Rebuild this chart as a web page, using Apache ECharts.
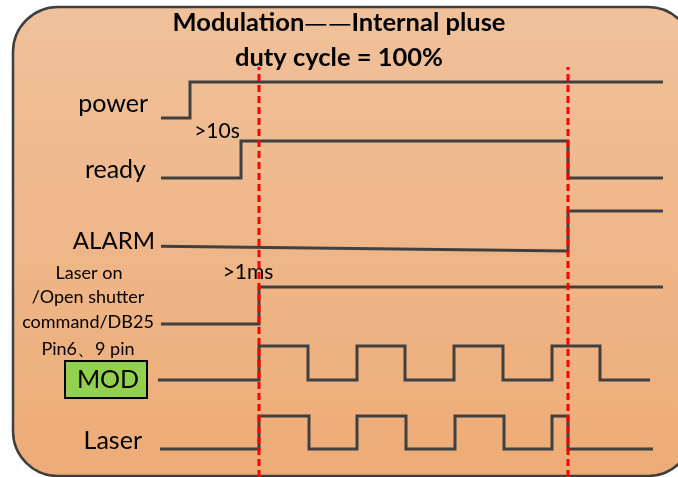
<!DOCTYPE html>
<html>
<head>
<meta charset="utf-8">
<script src="https://cdn.jsdelivr.net/npm/echarts@6/dist/echarts.min.js"></script>
<style>
  html, body { margin: 0; padding: 0; background: #fff; }
  #chart { width: 678px; height: 477px; }
</style>
</head>
<body>
<div id="chart"></div>
<script>
// time positions of each signal's edges, and the level held after each point
var powerT = [161, 190, 663];
var powerLv = [0, 1, 1];
var readyT = [161, 241, 568, 663];
var readyLv = [0, 1, 0, 0];
var alarmT = [161, 568, 568, 663];      // slowly sagging low level, then high
var alarmLv = [0.12, 0, 1, 1];
var cmdT = [161, 259, 663];
var cmdLv = [0, 1, 1];
var modT = [158, 259, 308, 357, 405, 454, 503, 552, 600, 650];
var modLv = [0, 1, 0, 1, 0, 1, 0, 1, 0, 0];
var laserT = [160, 259, 309, 357, 406, 455, 504, 552, 568, 653];
var laserLv = [0, 1, 0, 1, 0, 1, 0, 1, 0, 0];
var markerT = [259, 568];   // red dashed reference moments

var rows = [
  { name: 'power', t: powerT, lv: powerLv, top: 82, h: 36, step: 'end' },
  { name: 'ready', t: readyT, lv: readyLv, top: 141, h: 37, step: 'end' },
  { name: 'ALARM', t: alarmT, lv: alarmLv, top: 211, h: 40, step: false },
  { name: 'command', t: cmdT, lv: cmdLv, top: 287, h: 37, step: 'end' },
  { name: 'MOD', t: modT, lv: modLv, top: 346, h: 34, step: 'end' },
  { name: 'Laser', t: laserT, lv: laserLv, top: 416, h: 33, step: 'end' }
];

function pairs(t, lv) {
  return t.map(function (v, i) { return [v, lv[i]]; });
}

var grid = [], xAxis = [], yAxis = [], series = [];
rows.forEach(function (r, i) {
  grid.push({ left: 0, right: 0, top: r.top, height: r.h });
  xAxis.push({ type: 'value', gridIndex: i, min: 0, max: 678, show: false });
  yAxis.push({ type: 'value', gridIndex: i, min: 0, max: 1, show: false });
  series.push({
    name: r.name, type: 'line', xAxisIndex: i, yAxisIndex: i,
    data: pairs(r.t, r.lv), step: r.step, symbol: 'none', clip: false,
    lineStyle: { color: '#404040', width: 3, cap: 'butt', join: 'miter' },
    silent: true, z: 3
  });
});

// overlay grid for the dashed markers
var mi = rows.length;
grid.push({ left: 0, right: 0, top: 67, bottom: 0 });
xAxis.push({ type: 'value', gridIndex: mi, min: 0, max: 678, show: false });
yAxis.push({ type: 'value', gridIndex: mi, min: 0, max: 1, show: false });
markerT.forEach(function (m) {
  series.push({
    type: 'line', xAxisIndex: mi, yAxisIndex: mi,
    data: [[m, 0], [m, 1]], symbol: 'none', clip: false, silent: true,
    lineStyle: { color: '#ff0000', width: 3, type: [7, 4] }, z: 5
  });
});

var font = 'Lato, "Open Sans", sans-serif';
var cjk = '"Noto Sans CJK SC", sans-serif';
function label(txt, x, y, size, align) {
  return { type: 'text', x: x, y: y, style: { text: txt, font: size + 'px ' + font, fill: '#000', align: align || 'right', verticalAlign: 'middle' } };
}

var chart = echarts.init(document.getElementById('chart'));
var option = {
  backgroundColor: '#ffffff',
  animation: false,
  title: {
    text: '{a|Modulation}{d|—}{g| }{d|—}{a|Internal pluse}\n{a|duty cycle = 100%}',
    left: 'center', top: 0,
    textStyle: {
      rich: {
        a: { fontFamily: font, fontWeight: 'bold', fontSize: 25.5, color: '#000', lineHeight: 35 },
        d: { fontFamily: cjk, fontWeight: 'normal', fontSize: 26, color: '#000', lineHeight: 35 },
        g: { fontFamily: font, fontSize: 3, lineHeight: 35 }
      }
    }
  },
  graphic: [
    {
      type: 'rect', z: -10,
      shape: { x: 13, y: 7, width: 680, height: 469, r: 45 },
      style: {
        fill: new echarts.graphic.LinearGradient(0, 0, 0, 1, [
          { offset: 0, color: '#f0c19b' },
          { offset: 1, color: '#edac77' }
        ]),
        stroke: '#3e3e3e', lineWidth: 2.5
      }
    },
    label('power', 148, 104, 25),
    label('ready', 146, 170, 25),
    label('ALARM', 155, 241, 24),
    label('Laser', 142, 441, 25),
    label('Laser on', 89, 273, 18, 'center'),
    label('/Open shutter', 88, 297, 18, 'center'),
    label('command/DB25', 88, 322, 18, 'center'),
    label('Pin6、9 pin', 88, 349, 18, 'center'),
    label('>10s', 217, 131, 21, 'center'),
    label('>1ms', 248, 272, 21, 'center'),
    {
      type: 'rect', z: 2,
      shape: { x: 65, y: 361, width: 82, height: 37 },
      style: { fill: '#92d050', stroke: '#000', lineWidth: 2 }
    },
    { type: 'text', z: 3, x: 108, y: 380, style: { text: 'MOD', font: '25px ' + font, fill: '#000', align: 'center', verticalAlign: 'middle' } }
  ],
  grid: grid,
  xAxis: xAxis,
  yAxis: yAxis,
  series: series
};
chart.setOption(option);
</script>
</body>
</html>
